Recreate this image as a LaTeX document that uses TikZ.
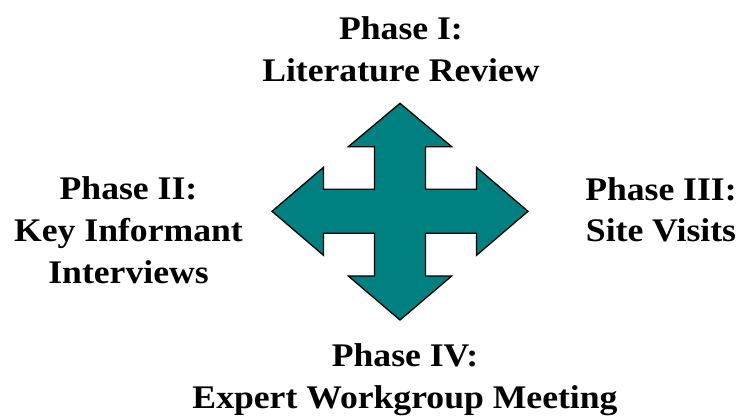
\documentclass[tikz,border=0pt]{standalone}
\usepackage{fontspec}
\setmainfont{Liberation Serif}[FakeStretch=1.08]
\definecolor{teal}{RGB}{0,128,128}
\begin{document}
\begin{tikzpicture}[x=1pt,y=-1pt,
  phase/.style={font=\fontsize{33}{41.7}\selectfont\bfseries, align=center, inner sep=0pt, anchor=base},
  crossarrow/.style={draw=black, fill=teal, line width=1.3pt, line join=miter}]
\useasboundingbox (0,0) rectangle (741,417);
\draw[crossarrow] (400,103.3) -- (451.7,146.7) -- (425.5,146.7) -- (425.5,189.3)
  -- (476.5,189.3) -- (476.5,167.3) -- (528,211.3) -- (476.5,255.3) -- (476.5,233.3)
  -- (425.5,233.3) -- (425.5,276) -- (451.7,276) -- (400,320) -- (348.3,276)
  -- (374.5,276) -- (374.5,233.3) -- (323.5,233.3) -- (323.5,255.3) -- (272,211.3)
  -- (323.5,167.3) -- (323.5,189.3) -- (374.5,189.3) -- (374.5,146.7) -- (348.3,146.7) -- cycle;
\node[phase] (p1) at (401,81.7) {Phase I:\\Literature Review};
\node[phase] (p2) at (128.5,283) {Phase II:\\Key Informant\\Interviews};
\node[phase] (p3) at (661,241.7) {Phase III:\\Site Visits};
\node[phase] (p4) at (405,408.3) {Phase IV:\\Expert Workgroup Meeting};
\end{tikzpicture}
\end{document}
